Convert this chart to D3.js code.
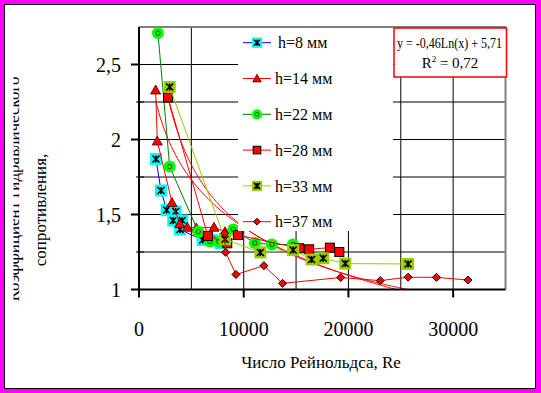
<!DOCTYPE html>
<html lang="ru">
<head>
<meta charset="utf-8">
<title>Коэффициент гидравлического сопротивления</title>
<script src="https://d3js.org/d3.v7.min.js"></script>
<style>
  body { margin: 0; background: #ff00ff; }
  svg { display: block; }
  text { font-family: "Liberation Serif", "Times New Roman", serif; fill: #000; }
</style>
</head>
<body>
<div id="chart"></div>
<script>
// data: [Re, lambda]
var h8  = [[1620, 1.87], [2100, 1.66], [2640, 1.53], [3500, 1.52], [3270, 1.46], [4130, 1.46], [3910, 1.40], [6080, 1.33], [6940, 1.33], [7800, 1.31]];
var h14 = [[1590, 2.33], [1745, 1.99], [3150, 1.58], [3880, 1.44], [4610, 1.415], [5470, 1.41], [7160, 1.415], [8210, 1.385]];
var h22 = [[1810, 2.71], [2930, 1.82], [5660, 1.385], [6780, 1.32], [7630, 1.32], [9000, 1.40], [11070, 1.31], [12690, 1.30], [14700, 1.30]];
var h28 = [[2770, 2.28], [6580, 1.357], [8430, 1.308], [9450, 1.363], [15300, 1.275], [16250, 1.268], [18230, 1.279], [19130, 1.25]];
var h33 = [[2930, 2.35], [8210, 1.335], [11590, 1.247], [14720, 1.263], [16480, 1.20], [17590, 1.208], [19700, 1.173], [25700, 1.17]];
var h37 = [[8180, 1.375], [8270, 1.248], [9260, 1.10], [11930, 1.159], [13710, 1.041], [19270, 1.08], [23040, 1.059], [25700, 1.082], [28410, 1.081], [31420, 1.063]];

var seriesNames = ["h=8 мм", "h=14 мм", "h=22 мм", "h=28 мм", "h=33 мм", "h=37 мм"];
var seriesData = [h8, h14, h22, h28, h33, h37];
var lineColors = ["#0000ff", "#ff0000", "#008000", "#ff0000", "#99cc00", "#ff0000"];
var markerTypes = ["cyanStar", "triangle", "greenCircle", "square", "oliveStar", "diamond"];

var xTicks = [0, 10000, 20000, 30000];
var yTicks = [1, 1.5, 2, 2.5];
var yTickLabels = ["1", "1,5", "2", "2,5"];

// trendlines: log (y = a ln x + b) and power (y = a x^b), with the Re range
var trendLog = {a: -0.46, b: 5.65, from: 1590, to: 31420};
var trendPow = {a: 42.8, b: -0.37, from: 2770, to: 25700};
var equationText = "y = -0,46Ln(x) + 5,71";
var r2Text = "0,72";

var width = 541, height = 393;
var plot = {left: 139, right: 505.5, top: 27, bottom: 289.5};

var x = d3.scaleLinear().domain([0, 35000]).range([plot.left, plot.right]);
var y = d3.scaleLinear().domain([1, 2.75]).range([plot.bottom, plot.top]);

var svg = d3.select("#chart").append("svg")
    .attr("width", width)
    .attr("height", height);

var defs = svg.append("defs");
defs.append("clipPath").attr("id", "plotClip")
  .append("rect")
    .attr("x", plot.left).attr("y", plot.top)
    .attr("width", plot.right - plot.left).attr("height", plot.bottom - plot.top);
defs.append("clipPath").attr("id", "titleClip")
  .append("rect")
    .attr("x", 13.5).attr("y", 5).attr("width", 120).attr("height", 380);

// chart area frame
svg.append("rect")
    .attr("x", 4.5).attr("y", 4.5)
    .attr("width", 531).attr("height", 384)
    .attr("fill", "#fff")
    .attr("stroke", "#000");

// gridlines
var grid = svg.append("g");
d3.range(5000, 35000, 5000).forEach(function(v) {
  grid.append("line")
    .attr("x1", x(v)).attr("x2", x(v))
    .attr("y1", plot.top).attr("y2", plot.bottom)
    .attr("stroke", "#000").attr("stroke-width", 1);
});
d3.range(1.25, 2.75, 0.25).forEach(function(v) {
  grid.append("line")
    .attr("x1", plot.left).attr("x2", plot.right)
    .attr("y1", y(v)).attr("y2", y(v))
    .attr("stroke", "#000").attr("stroke-width", 1);
});

// plot area border (grey top & right)
svg.append("path")
    .attr("d", "M" + plot.left + "," + plot.top + "H" + plot.right + "V" + plot.bottom)
    .attr("fill", "none")
    .attr("stroke", "#808080")
    .attr("stroke-width", 2);

// trendlines
var tg = svg.append("g").attr("clip-path", "url(#plotClip)");
function sampleTrend(f, from, to) {
  var pts = [];
  for (var i = 0; i <= 200; i++) {
    var re = from + (to - from) * i / 200;
    pts.push([re, f(re)]);
  }
  return pts;
}
var lineGen = d3.line().x(function(d) { return x(d[0]); }).y(function(d) { return y(d[1]); });
tg.append("path")
    .attr("d", lineGen(sampleTrend(function(re) { return trendLog.a * Math.log(re) + trendLog.b; }, trendLog.from, trendLog.to)))
    .attr("fill", "none").attr("stroke", "#ff0000").attr("stroke-width", 1);
tg.append("path")
    .attr("d", lineGen(sampleTrend(function(re) { return trendPow.a * Math.pow(re, trendPow.b); }, trendPow.from, trendPow.to)))
    .attr("fill", "none").attr("stroke", "#ff0000").attr("stroke-width", 1);

// markers
function drawMarker(g, type, cx, cy, small) {
  var s = small ? 0.85 : 1;
  if (type === "cyanStar" || type === "oliveStar") {
    var side = 12 * s;
    g.append("rect")
      .attr("x", cx - side / 2).attr("y", cy - side / 2)
      .attr("width", side).attr("height", side)
      .attr("fill", type === "cyanStar" ? "#00ffff" : "#99cc00");
    var a = 3.5 * s;
    g.append("path")
      .attr("d", "M" + cx + "," + (cy - a) + "V" + (cy + a) +
                 "M" + (cx - a) + "," + (cy - a) + "L" + (cx + a) + "," + (cy + a) +
                 "M" + (cx + a) + "," + (cy - a) + "L" + (cx - a) + "," + (cy + a))
      .attr("stroke", "#000").attr("stroke-width", 1.6).attr("fill", "none");
  } else if (type === "triangle") {
    var t = 5 * s;
    g.append("path")
      .attr("d", "M" + cx + "," + (cy - t) + "L" + (cx + t) + "," + (cy + t * 0.8) + "L" + (cx - t) + "," + (cy + t * 0.8) + "Z")
      .attr("fill", "#ff0000").attr("stroke", "#400000").attr("stroke-width", 0.8);
  } else if (type === "greenCircle") {
    g.append("circle").attr("cx", cx).attr("cy", cy).attr("r", 6 * s).attr("fill", "#00ff00");
    g.append("circle").attr("cx", cx).attr("cy", cy).attr("r", 2.2 * s)
      .attr("fill", "none").attr("stroke", "#205020").attr("stroke-width", 1);
  } else if (type === "square") {
    var q = 9 * s;
    g.append("rect")
      .attr("x", cx - q / 2).attr("y", cy - q / 2)
      .attr("width", q).attr("height", q)
      .attr("fill", "#ff0000").attr("stroke", "#000").attr("stroke-width", 1);
  } else if (type === "diamond") {
    var dd = 4 * s;
    g.append("path")
      .attr("d", "M" + cx + "," + (cy - dd) + "L" + (cx + dd) + "," + cy + "L" + cx + "," + (cy + dd) + "L" + (cx - dd) + "," + cy + "Z")
      .attr("fill", "#ff0000").attr("stroke", "#000").attr("stroke-width", 1);
  }
}

// series
seriesData.forEach(function(data, i) {
  var g = svg.append("g");
  g.append("path")
    .attr("d", lineGen(data))
    .attr("fill", "none")
    .attr("stroke", lineColors[i])
    .attr("stroke-width", 1);
  data.forEach(function(d) {
    drawMarker(g, markerTypes[i], x(d[0]), y(d[1]), false);
  });
});

// axes
svg.append("line")
    .attr("x1", plot.left).attr("x2", plot.left)
    .attr("y1", plot.top).attr("y2", plot.bottom + 1)
    .attr("stroke", "#000").attr("stroke-width", 2);
svg.append("line")
    .attr("x1", plot.left - 1).attr("x2", plot.right)
    .attr("y1", plot.bottom).attr("y2", plot.bottom)
    .attr("stroke", "#000").attr("stroke-width", 2);

xTicks.forEach(function(v) {
  svg.append("line")
    .attr("x1", x(v)).attr("x2", x(v))
    .attr("y1", plot.bottom).attr("y2", plot.bottom + 8)
    .attr("stroke", "#000").attr("stroke-width", 2);
  svg.append("text")
    .attr("x", x(v)).attr("y", 336)
    .attr("text-anchor", "middle")
    .style("font-size", "20px")
    .text(v);
});
d3.range(1.25, 2.75, 0.5).forEach(function(v) {
  svg.append("line")
    .attr("x1", plot.left - 3).attr("x2", plot.left + 5)
    .attr("y1", y(v)).attr("y2", y(v))
    .attr("stroke", "#000").attr("stroke-width", 1);
});
yTicks.forEach(function(v, i) {
  svg.append("line")
    .attr("x1", plot.left - 8).attr("x2", plot.left)
    .attr("y1", y(v)).attr("y2", y(v))
    .attr("stroke", "#000").attr("stroke-width", 2);
  svg.append("text")
    .attr("x", 121).attr("y", y(v))
    .attr("dy", "0.35em")
    .attr("text-anchor", "end")
    .style("font-size", "20px")
    .text(yTickLabels[i]);
});

// axis titles
svg.append("text")
    .attr("x", 321).attr("y", 368)
    .attr("text-anchor", "middle")
    .style("font-size", "17px")
    .text("Число Рейнольдса, Re");

var ytitle = svg.append("g").attr("clip-path", "url(#titleClip)");
ytitle.append("text")
    .attr("transform", "translate(19,189) rotate(-90)")
    .attr("text-anchor", "middle")
    .style("font-size", "17px")
    .text("Коэффициент гидравлического");
ytitle.append("text")
    .attr("transform", "translate(46,210) rotate(-90)")
    .attr("text-anchor", "middle")
    .style("font-size", "17px")
    .text("сопротивления,");

// legend
var legend = svg.append("g");
legend.append("rect")
    .attr("x", 238).attr("y", 28)
    .attr("width", 155).attr("height", 203)
    .attr("fill", "#fff");
seriesNames.forEach(function(name, i) {
  var ly = 42.7 + i * 35.8;
  legend.append("line")
    .attr("x1", 243).attr("x2", 271)
    .attr("y1", ly).attr("y2", ly)
    .attr("stroke", lineColors[i]).attr("stroke-width", 1);
  drawMarker(legend, markerTypes[i], 257, ly, true);
  legend.append("text")
    .attr("x", i === 0 ? 278 : 275).attr("y", ly)
    .attr("dy", "0.35em")
    .style("font-size", "16px")
    .text(name);
});

// equation box
var eq = svg.append("g");
eq.append("rect")
    .attr("x", 394).attr("y", 28)
    .attr("width", 112.5).attr("height", 49)
    .attr("fill", "#fff")
    .attr("stroke", "#ff0000").attr("stroke-width", 1.5);
eq.append("text")
    .attr("x", 397).attr("y", 48)
    .attr("textLength", 105)
    .attr("lengthAdjust", "spacingAndGlyphs")
    .style("font-size", "15px")
    .text(equationText);
var r2 = eq.append("text")
    .attr("x", 450).attr("y", 68)
    .attr("text-anchor", "middle")
    .style("font-size", "15px");
r2.append("tspan").text("R");
r2.append("tspan").attr("dy", -6).style("font-size", "9px").text("2");
r2.append("tspan").attr("dy", 6).text(" = " + r2Text);
</script>
</body>
</html>
